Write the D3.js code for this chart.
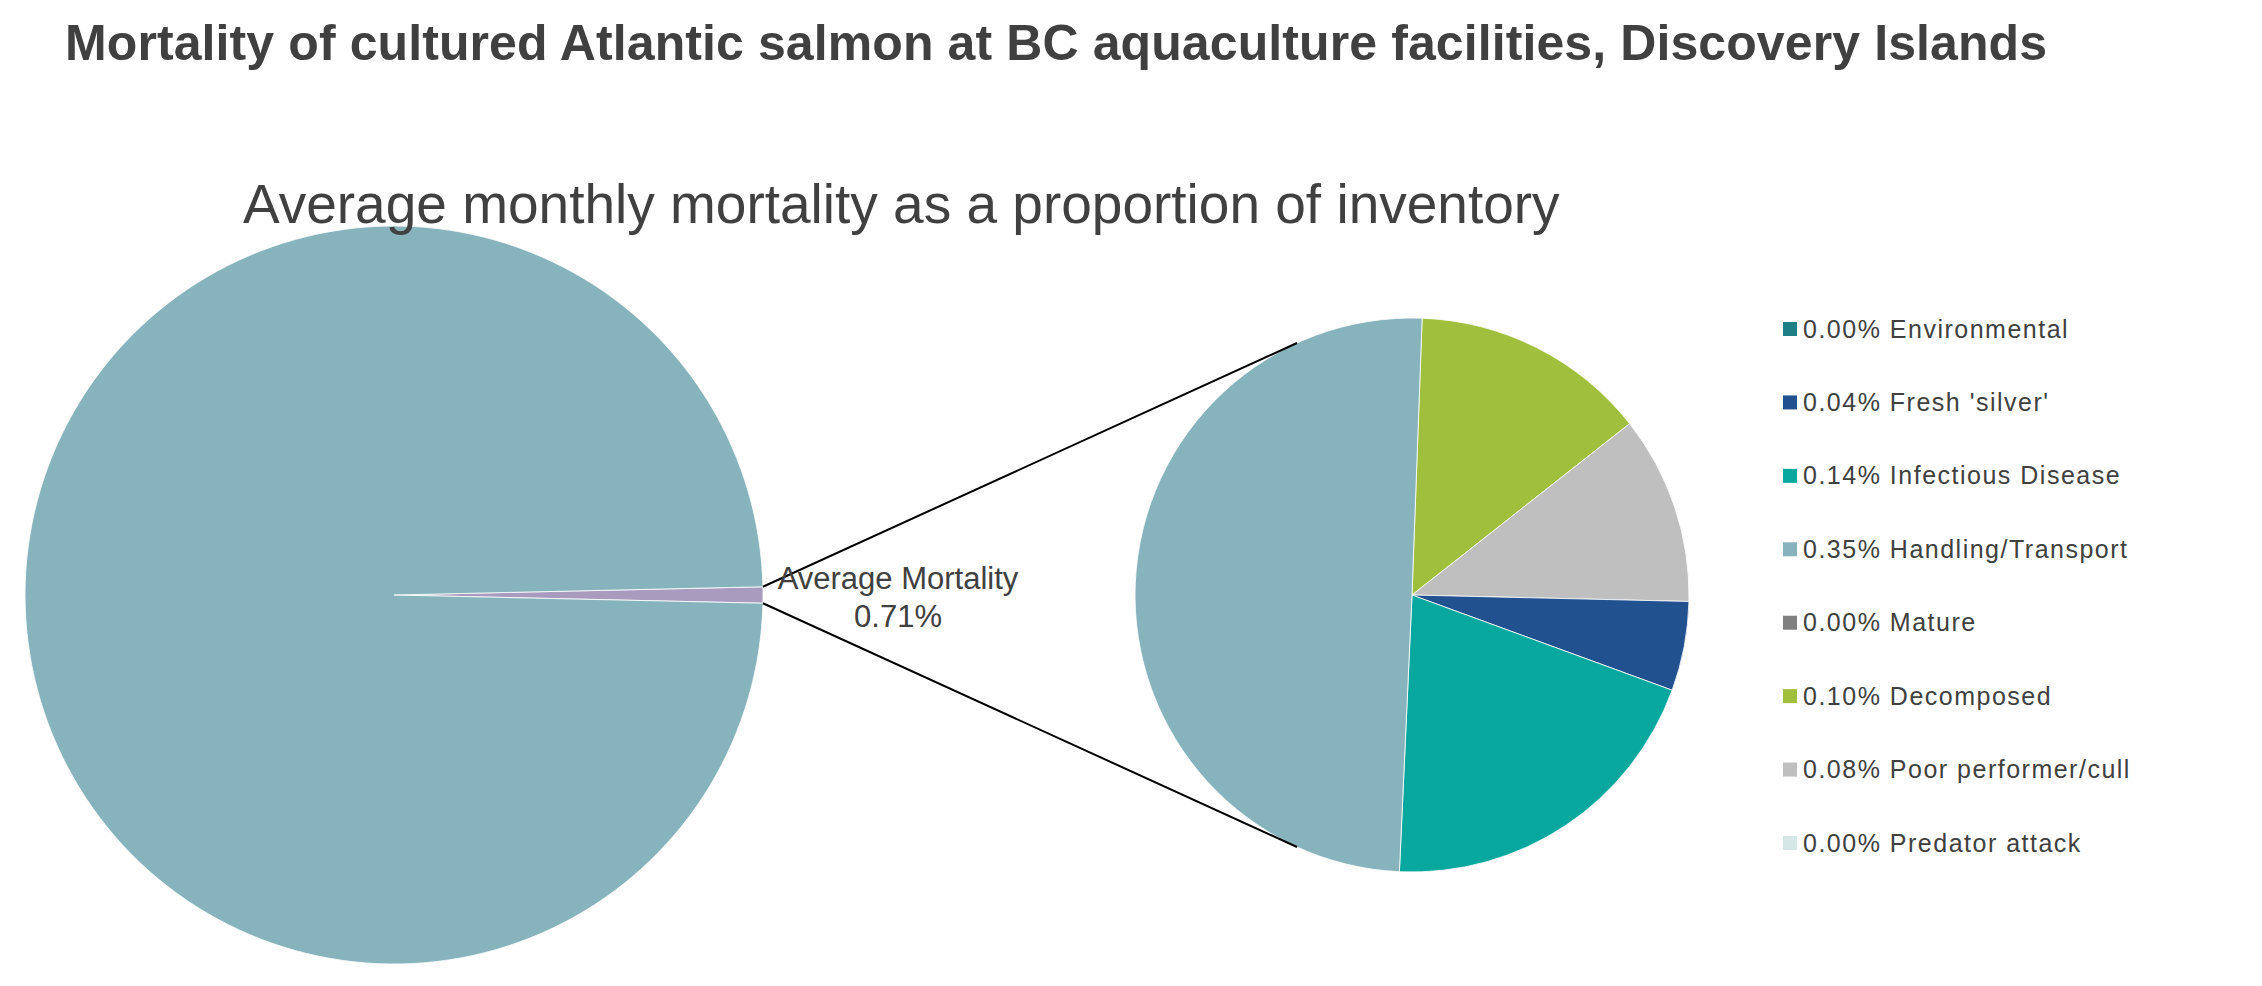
<!DOCTYPE html>
<html>
<head>
<meta charset="utf-8">
<script src="https://cdn.jsdelivr.net/npm/d3@7"></script>
<style>
  html, body { margin: 0; padding: 0; background: #fff; }
  text { font-family: "Liberation Sans", Arial, sans-serif; fill: #404040; }
</style>
</head>
<body>
<svg id="chart" width="2262" height="986"></svg>
<script>
// legend order
var categories = ["Environmental", "Fresh 'silver'", "Infectious Disease", "Handling/Transport",
                  "Mature", "Decomposed", "Poor performer/cull", "Predator attack"];
// average monthly mortality, % of inventory
var mortality = [0.000, 0.037, 0.143, 0.354, 0.000, 0.098, 0.078, 0.000];
var colors = ["#1F7F86", "#21518F", "#08A89F", "#87B4BC", "#808080", "#A0BF3C", "#BFBFBF", "#D6E8E6"];
// clockwise order of the slices in the small pie
var pieOrder = ["Decomposed", "Poor performer/cull", "Predator attack", "Environmental",
                "Fresh 'silver'", "Infectious Disease", "Handling/Transport", "Mature"];

var bigLabels = ["Average Mortality", "Remaining inventory"];
var bigValues = [0.71, 99.29];
var bigColors = ["#A89BBE", "#87B4BC"];

var title = "Mortality of cultured Atlantic salmon at BC aquaculture facilities, Discovery Islands";
var subtitle = "Average monthly mortality as a proportion of inventory";

var svg = d3.select("#chart");
var fmt = d3.format(".2f");

// ---- big pie ----
var big = {cx: 394, cy: 595, r: 369};
var total = d3.sum(bigValues);
var half = Math.PI * bigValues[0] / total;

var bigPie = d3.pie().sort(null)
  .startAngle(Math.PI / 2 - half)
  .endAngle(Math.PI / 2 - half + 2 * Math.PI);
var bigArc = d3.arc().innerRadius(0).outerRadius(big.r);

var gBig = svg.append("g").attr("transform", "translate(" + big.cx + "," + big.cy + ")");
gBig.selectAll("path")
  .data(bigPie(bigValues))
  .enter().append("path")
  .attr("d", bigArc)
  .attr("fill", function(d, i) { return bigColors[i]; })
  .attr("stroke", "#fff").attr("stroke-width", 0.8);

// ---- small pie ----
var small = {cx: 1412, cy: 595, r: 277};
var startOff = 2.1 * Math.PI / 180;
var smallData = pieOrder.map(function(c) {
  var i = categories.indexOf(c);
  return {name: c, value: mortality[i], color: colors[i]};
});
var smallPie = d3.pie().sort(null).value(function(d) { return d.value; })
  .startAngle(startOff).endAngle(startOff + 2 * Math.PI);
var smallArc = d3.arc().innerRadius(0).outerRadius(small.r);

var gSmall = svg.append("g").attr("transform", "translate(" + small.cx + "," + small.cy + ")");
gSmall.selectAll("path")
  .data(smallPie(smallData).filter(function(d) { return d.value > 0; }))
  .enter().append("path")
  .attr("d", smallArc)
  .attr("fill", function(d) { return d.data.color; })
  .attr("stroke", "#fff").attr("stroke-width", 0.8);

// ---- connector lines (slice corners -> tangents of small pie) ----
function onBig(a) {
  return [big.cx + big.r * Math.sin(a), big.cy - big.r * Math.cos(a)];
}
function tangent(p, upper) {
  var dx = p[0] - small.cx, dy = p[1] - small.cy;
  var d = Math.sqrt(dx * dx + dy * dy);
  var th = Math.atan2(dy, dx);
  var al = Math.acos(small.r / d);
  var pts = [th + al, th - al].map(function(t) {
    return [small.cx + small.r * Math.cos(t), small.cy + small.r * Math.sin(t)];
  });
  pts.sort(function(a, b) { return a[1] - b[1]; });
  return upper ? pts[0] : pts[1];
}
var p1 = onBig(Math.PI / 2 - half), p2 = onBig(Math.PI / 2 + half);
[[p1, tangent(p1, true)], [p2, tangent(p2, false)]].forEach(function(seg) {
  svg.append("line")
    .attr("x1", seg[0][0]).attr("y1", seg[0][1])
    .attr("x2", seg[1][0]).attr("y2", seg[1][1])
    .attr("stroke", "#000").attr("stroke-width", 2);
});

// titles on top of the pies
svg.append("text")
  .attr("x", 65).attr("y", 60)
  .style("font-size", "50px").style("font-weight", "bold")
  .style("letter-spacing", "0.1px")
  .text(title);

svg.append("text")
  .attr("x", 243).attr("y", 223)
  .style("font-size", "55px")
  .text(subtitle);

// ---- label ----
var lab = svg.append("text")
  .attr("text-anchor", "middle")
  .style("font-size", "31px");
lab.append("tspan").attr("x", 898).attr("y", 589).text(bigLabels[0]);
lab.append("tspan").attr("x", 898).attr("y", 627).text(fmt(bigValues[0]) + "%");

// ---- legend ----
var legY = d3.scalePoint().domain(categories).range([329, 843]);
var leg = svg.append("g").selectAll("g")
  .data(categories)
  .enter().append("g")
  .attr("transform", function(d) { return "translate(1783," + legY(d) + ")"; });
leg.append("rect")
  .attr("x", 0).attr("y", -7).attr("width", 14).attr("height", 14)
  .attr("fill", function(d, i) { return colors[i]; });
leg.append("text")
  .attr("x", 20).attr("y", 8.5)
  .style("font-size", "25px").style("letter-spacing", "1.5px")
  .text(function(d, i) { return fmt(mortality[i]) + "% " + d; });
</script>
</body>
</html>
